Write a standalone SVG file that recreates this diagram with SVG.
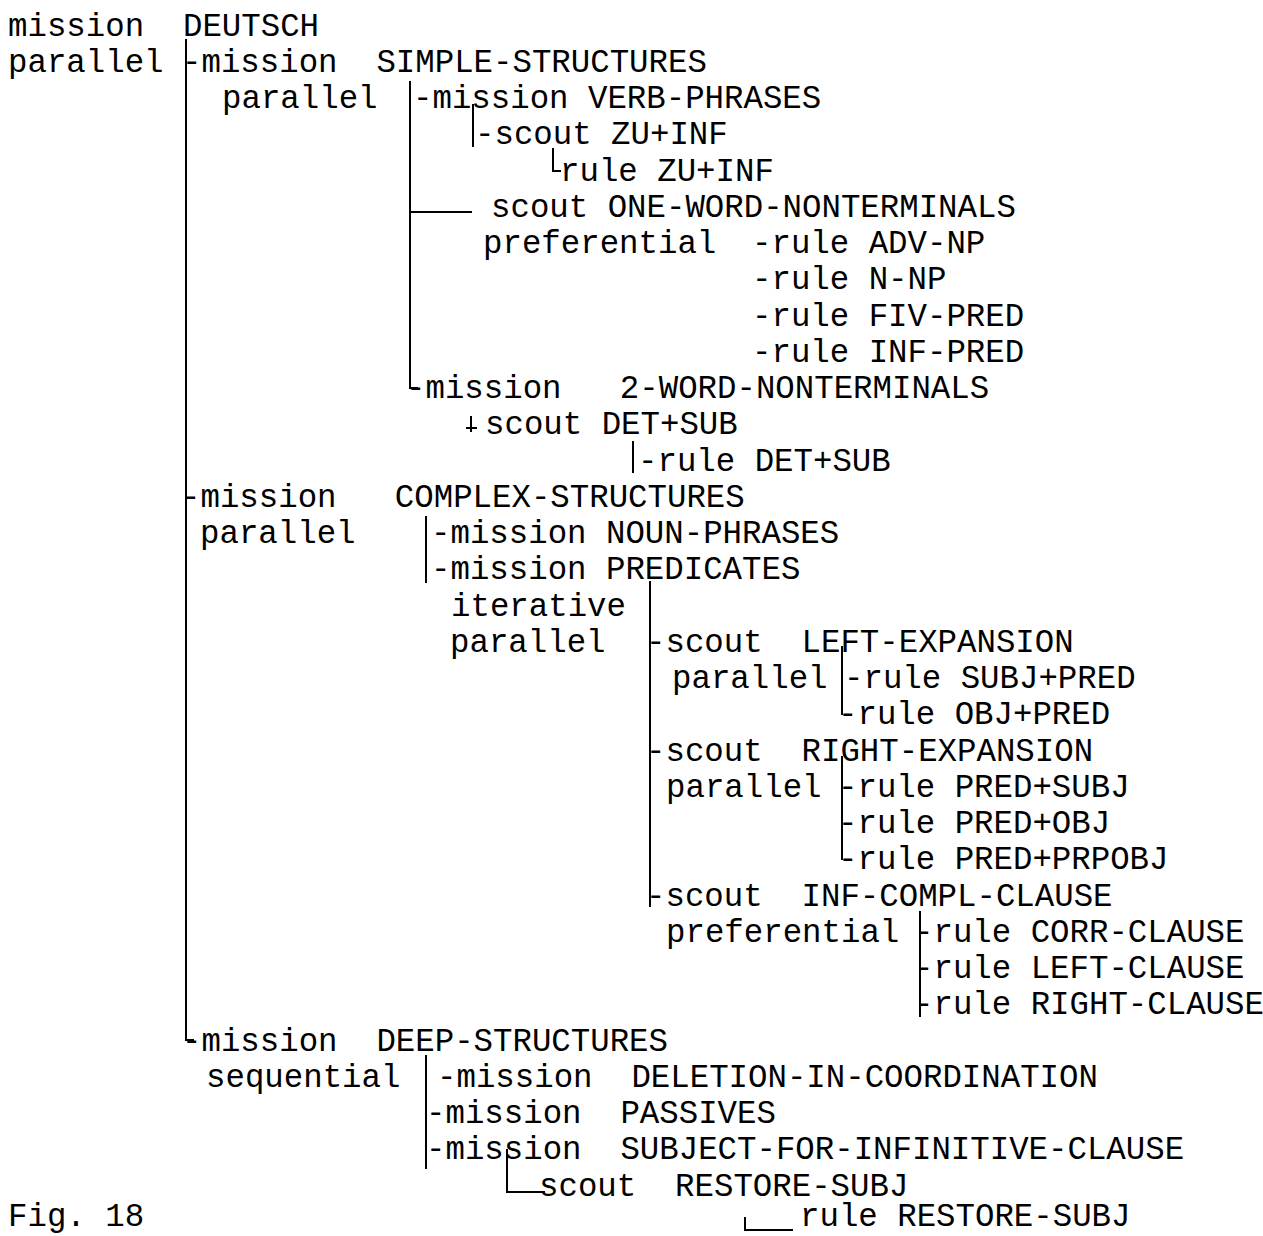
<svg xmlns="http://www.w3.org/2000/svg" width="1263" height="1236" viewBox="0 0 1263 1236">
<style>
text{font-family:"Liberation Mono","Courier New",monospace;font-size:32.4px;fill:#000;white-space:pre}
.c{stroke:#000;stroke-width:2;fill:none}
</style>
<rect width="1263" height="1236" fill="#fff"/>
<g id="connectors">
<path class="c" d="M186,39V1040H194"/>
<path class="c" d="M410,81V388H418"/>
<path class="c" d="M410,212H472"/>
<path class="c" d="M473,104V147"/>
<path class="c" d="M553,148V171H561"/>
<path class="c" d="M471,416V432M466,428H477"/>
<path class="c" d="M633,441V473"/>
<path class="c" d="M426,516V583"/>
<path class="c" d="M650,581V907"/>
<path class="c" d="M842,646V715"/>
<path class="c" d="M842,756V860"/>
<path class="c" d="M920,911V1017"/>
<path class="c" d="M426,1055V1169"/>
<path class="c" d="M507,1149V1192H545"/>
<path class="c" d="M745,1217V1230H793"/>
</g>
<g id="n-deutsch"><text x="8" y="35.5">mission  DEUTSCH</text><text x="8" y="71.75">parallel</text></g>
<g id="n-simple"><text x="182" y="71.75">-mission  SIMPLE-STRUCTURES</text><text x="222" y="108">parallel</text></g>
<g id="n-verb"><text x="413" y="108">-mission VERB-PHRASES</text></g>
<g id="n-scout-zu"><text x="475" y="144.25">-scout ZU+INF</text></g>
<g id="n-rule-zu"><text x="560" y="180.5">rule ZU+INF</text></g>
<g id="n-scout-one"><text x="491" y="216.75">scout ONE-WORD-NONTERMINALS</text><text x="483" y="253">preferential</text></g>
<g id="n-rule-advnp"><text x="752" y="253">-rule ADV-NP</text></g>
<g id="n-rule-nnp"><text x="752" y="289.25">-rule N-NP</text></g>
<g id="n-rule-fiv"><text x="752" y="325.5">-rule FIV-PRED</text></g>
<g id="n-rule-inf"><text x="752" y="361.75">-rule INF-PRED</text></g>
<g id="n-2word"><text x="406" y="398">-mission   2-WORD-NONTERMINALS</text></g>
<g id="n-scout-det"><text x="485" y="434.25">scout DET+SUB</text></g>
<g id="n-rule-det"><text x="638" y="470.5">-rule DET+SUB</text></g>
<g id="n-complex"><text x="181" y="506.75">-mission   COMPLEX-STRUCTURES</text><text x="200" y="543">parallel</text></g>
<g id="n-noun"><text x="431" y="543">-mission NOUN-PHRASES</text></g>
<g id="n-pred"><text x="431" y="579.25">-mission PREDICATES</text><text x="451" y="615.5">iterative</text><text x="450" y="651.75">parallel</text></g>
<g id="n-left"><text x="646" y="651.75">-scout  LEFT-EXPANSION</text><text x="672" y="688">parallel</text></g>
<g id="n-rule-subjpred"><text x="844" y="688">-rule SUBJ+PRED</text></g>
<g id="n-rule-objpred"><text x="838" y="724.25">-rule OBJ+PRED</text></g>
<g id="n-right"><text x="646" y="760.5">-scout  RIGHT-EXPANSION</text><text x="666" y="796.75">parallel</text></g>
<g id="n-rule-predsubj"><text x="838" y="796.75">-rule PRED+SUBJ</text></g>
<g id="n-rule-predobj"><text x="838" y="833">-rule PRED+OBJ</text></g>
<g id="n-rule-predprpobj"><text x="838" y="869.25">-rule PRED+PRPOBJ</text></g>
<g id="n-infcompl"><text x="646" y="905.5">-scout  INF-COMPL-CLAUSE</text><text x="666" y="941.75">preferential</text></g>
<g id="n-rule-corr"><text x="914" y="941.75">-rule CORR-CLAUSE</text></g>
<g id="n-rule-leftcl"><text x="914" y="978">-rule LEFT-CLAUSE</text></g>
<g id="n-rule-rightcl"><text x="914" y="1014.25">-rule RIGHT-CLAUSE</text></g>
<g id="n-deep"><text x="182" y="1050.5">-mission  DEEP-STRUCTURES</text><text x="206" y="1086.75">sequential</text></g>
<g id="n-deletion"><text x="437" y="1086.75">-mission  DELETION-IN-COORDINATION</text></g>
<g id="n-passives"><text x="426" y="1123">-mission  PASSIVES</text></g>
<g id="n-subjinf"><text x="426" y="1159.25">-mission  SUBJECT-FOR-INFINITIVE-CLAUSE</text></g>
<g id="n-scout-restore"><text x="539" y="1195.5">scout  RESTORE-SUBJ</text></g>
<g id="n-rule-restore"><text x="800" y="1226">rule RESTORE-SUBJ</text></g>
<g id="caption"><text x="8" y="1226">Fig. 18</text></g>
</svg>
